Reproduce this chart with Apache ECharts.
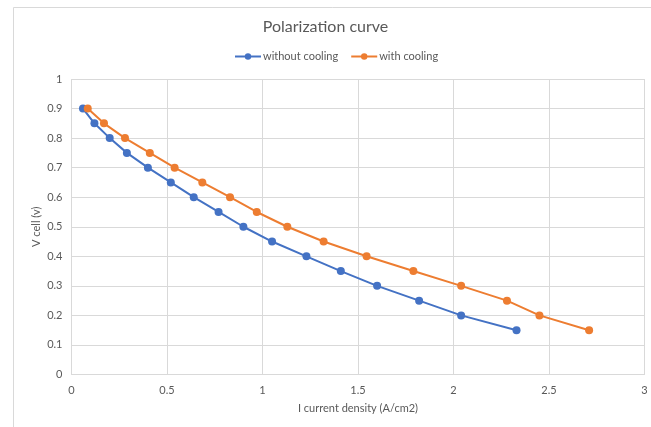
<!DOCTYPE html>
<html>
<head>
<meta charset="utf-8">
<script src="https://cdn.jsdelivr.net/npm/echarts@6/dist/echarts.min.js"></script>
<style>
  html, body { margin: 0; padding: 0; background: #fff; }
  #chart { width: 651px; height: 427px; }
</style>
</head>
<body>
<div id="chart"></div>
<script>
// Cell voltage (V) for each measured point
const cellVoltage = [0.9, 0.85, 0.8, 0.75, 0.7, 0.65, 0.6, 0.55, 0.5, 0.45, 0.4, 0.35, 0.3, 0.25, 0.2, 0.15];
// Current density (A/cm2) without cooling
const currentWithoutCooling = [0.06, 0.12, 0.20, 0.29, 0.40, 0.52, 0.64, 0.77, 0.90, 1.05, 1.23, 1.41, 1.60, 1.82, 2.04, 2.33];
// Current density (A/cm2) with cooling
const currentWithCooling = [0.085, 0.17, 0.28, 0.41, 0.54, 0.685, 0.83, 0.97, 1.13, 1.32, 1.545, 1.79, 2.04, 2.28, 2.45, 2.71];

const seriesNames = ['without cooling', 'with cooling'];
const seriesColors = ['#4472C4', '#ED7D31'];

function pairs(xs, ys) {
  return xs.map((x, i) => [x, ys[i]]);
}

const textColor = '#595959';
const gridColor = '#d9d9d9';
const fontFamily = 'Lato, "Open Sans", sans-serif';

const chart = echarts.init(document.getElementById('chart'), null, { renderer: 'canvas' });

const makeSeries = (name, color, xs) => ({
  name: name,
  type: 'line',
  data: pairs(xs, cellVoltage),
  symbol: 'circle',
  symbolSize: 8,
  showSymbol: true,
  lineStyle: { color: color, width: 2 },
  itemStyle: { color: color },
  emphasis: { disabled: true },
  animation: false
});

chart.setOption({
  backgroundColor: '#ffffff',
  textStyle: { fontFamily: fontFamily },
  graphic: [{
    type: 'rect',
    left: 11, top: 5,
    shape: { width: 700, height: 500 },
    style: { fill: 'none', stroke: gridColor, lineWidth: 1 },
    silent: true
  }],
  title: {
    text: 'Polarization curve',
    left: 'center',
    top: 14,
    textStyle: { color: textColor, fontSize: 16, fontWeight: 'normal', fontFamily: fontFamily }
  },
  legend: {
    top: 46,
    left: 229,
    itemWidth: 26,
    itemHeight: 8,
    itemGap: 12,
    textStyle: { color: textColor, fontSize: 11, fontFamily: fontFamily, padding: [0, 0, 0, -3] },
    data: seriesNames
  },
  grid: { left: 71.5, right: 6.5, top: 79, bottom: 52.5, containLabel: false },
  xAxis: {
    type: 'value',
    min: 0, max: 3, interval: 0.5,
    name: 'I current density (A/cm2)',
    nameLocation: 'middle',
    nameGap: 28,
    nameMoveOverlap: false,
    nameTextStyle: { color: textColor, fontSize: 11, fontFamily: fontFamily },
    axisLine: { show: true, lineStyle: { color: gridColor, width: 1 } },
    axisTick: { show: false },
    axisLabel: { color: textColor, fontSize: 11, margin: 10, fontFamily: fontFamily },
    splitLine: { show: true, lineStyle: { color: gridColor, width: 1 } }
  },
  yAxis: {
    type: 'value',
    min: 0, max: 1, interval: 0.1,
    name: 'V cell (v)',
    nameLocation: 'middle',
    nameGap: 30,
    nameMoveOverlap: false,
    nameTextStyle: { color: textColor, fontSize: 11, fontFamily: fontFamily },
    axisLine: { show: false },
    axisTick: { show: false },
    axisLabel: { color: textColor, fontSize: 11, margin: 9, fontFamily: fontFamily },
    splitLine: { show: true, lineStyle: { color: gridColor, width: 1 } }
  },
  series: [
    makeSeries(seriesNames[0], seriesColors[0], currentWithoutCooling),
    makeSeries(seriesNames[1], seriesColors[1], currentWithCooling)
  ],
  animation: false
});
</script>
</body>
</html>
